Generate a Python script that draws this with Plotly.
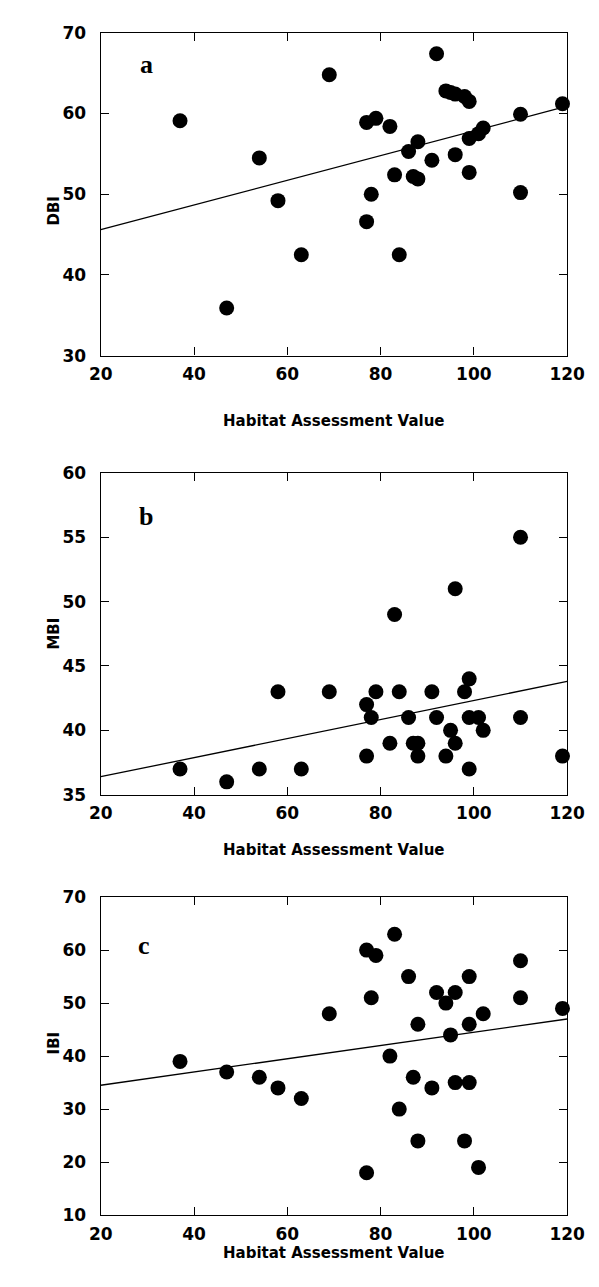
import plotly.graph_objects as go

# Habitat assessment values (x) read per panel
hab_a = [37, 47, 54, 58, 63, 69, 77, 79, 77, 78, 82, 83, 84, 86, 88, 87,
         88, 91, 92, 94, 95, 96, 98, 99, 96, 99, 99, 101, 102, 110, 110, 119]
dbi = [59.1, 35.9, 54.5, 49.2, 42.5, 64.8, 58.9, 59.4, 46.6, 50.0, 58.4, 52.4,
       42.5, 55.3, 56.5, 52.2, 51.9, 54.2, 67.4, 62.8, 62.6, 62.4, 62.1, 61.5,
       54.9, 56.9, 52.7, 57.5, 58.2, 59.9, 50.2, 61.2]

hab_b = [37, 47, 54, 58, 63, 69, 77, 77, 78, 79, 82, 83, 84, 86, 87, 88,
         88, 91, 92, 94, 95, 96, 96, 98, 99, 99, 99, 101, 102, 110, 110, 119]
mbi = [37, 36, 37, 43, 37, 43, 42, 38, 41, 43, 39, 49, 43, 41, 39, 39,
       38, 43, 41, 38, 40, 51, 39, 43, 44, 41, 37, 41, 40, 55, 41, 38]

hab_c = [37, 47, 54, 58, 63, 69, 77, 79, 78, 77, 82, 83, 84, 86, 87, 88,
         88, 91, 92, 94, 95, 96, 96, 98, 99, 99, 99, 101, 102, 110, 110, 119]
ibi = [39, 37, 36, 34, 32, 48, 60, 59, 51, 18, 40, 63, 30, 55, 36, 46,
       24, 34, 52, 50, 44, 52, 35, 24, 55, 46, 35, 19, 48, 58, 51, 49]

# Regression lines (at x = 20 and x = 120)
fit_x = [20, 120]
fit_a = [45.6, 60.9]
fit_b = [36.4, 43.8]
fit_c = [34.5, 47.0]

x_ticks = [20, 40, 60, 80, 100, 120]
y_ticks_a = [30, 40, 50, 60, 70]
y_ticks_b = [35, 40, 45, 50, 55, 60]
y_ticks_c = [10, 20, 30, 40, 50, 60, 70]

panels = [
    ("a", hab_a, dbi, fit_a, "DBI", [30, 70], y_ticks_a),
    ("b", hab_b, mbi, fit_b, "MBI", [35, 60], y_ticks_b),
    ("c", hab_c, ibi, fit_c, "IBI", [10, 70], y_ticks_c),
]
letter_pos = [(29.9, 66.1), (29.8, 56.6), (29.2, 60.8)]

W, H = 599, 1287
px_left, px_right = 85, 576
px_y = [(15, 343), (462, 789), (893, 1216)]
xtitle_px = [398, 845, 1266]

TICKFONT = dict(family="DejaVu Sans", size=17, color="black", weight="bold")
TITLEFONT = dict(family="DejaVu Sans", size=15, color="black", weight="bold")

fig = go.Figure()
annotations = []
for i, (lab, xs, ys, fit, ytitle, yr, yt) in enumerate(panels):
    n = "" if i == 0 else str(i + 1)
    xa, ya = "x" + n, "y" + n
    fig.add_trace(go.Scatter(x=fit_x, y=fit, mode="lines", xaxis=xa, yaxis=ya,
                             line=dict(color="black", width=1.3),
                             showlegend=False, hoverinfo="skip"))
    fig.add_trace(go.Scatter(x=xs, y=ys, mode="markers", xaxis=xa, yaxis=ya,
                             marker=dict(color="black", size=15, line=dict(width=0)),
                             cliponaxis=False, showlegend=False))
    top, bot = px_y[i]
    dom_y = [1 - bot / H, 1 - top / H]
    common = dict(showline=True, linecolor="black", linewidth=1.4, mirror="ticks",
                  ticks="inside", ticklen=8, tickwidth=1.2, tickcolor="black",
                  showgrid=False, zeroline=False, tickfont=TICKFONT)
    fig.update_layout(**{
        "xaxis" + n: dict(domain=[px_left / W, px_right / W], range=[20, 120],
                          tickvals=x_ticks, anchor=ya, ticklabelstandoff=3, **common),
        "yaxis" + n: dict(domain=dom_y, range=yr, tickvals=yt, anchor=xa,
                          ticklabelstandoff=10, **common),
    })
    annotations.append(dict(text=lab, x=letter_pos[i][0], y=letter_pos[i][1],
                            xref=xa, yref=ya, showarrow=False,
                            font=dict(family="Liberation Serif", size=26,
                                      color="black", weight="bold")))
    annotations.append(dict(text="Habitat Assessment Value", x=(px_left + px_right) / 2 / W,
                            y=1 - xtitle_px[i] / H, xref="paper", yref="paper",
                            showarrow=False, font=TITLEFONT))
    annotations.append(dict(text=ytitle, x=24 / W, y=1 - (top + bot) / 2 / H,
                            xref="paper", yref="paper", textangle=-90,
                            showarrow=False, font=TITLEFONT))

fig.update_layout(width=W, height=H, margin=dict(l=0, r=0, t=0, b=0),
                  paper_bgcolor="white", plot_bgcolor="white",
                  annotations=annotations)
fig.write_html("out.html")
